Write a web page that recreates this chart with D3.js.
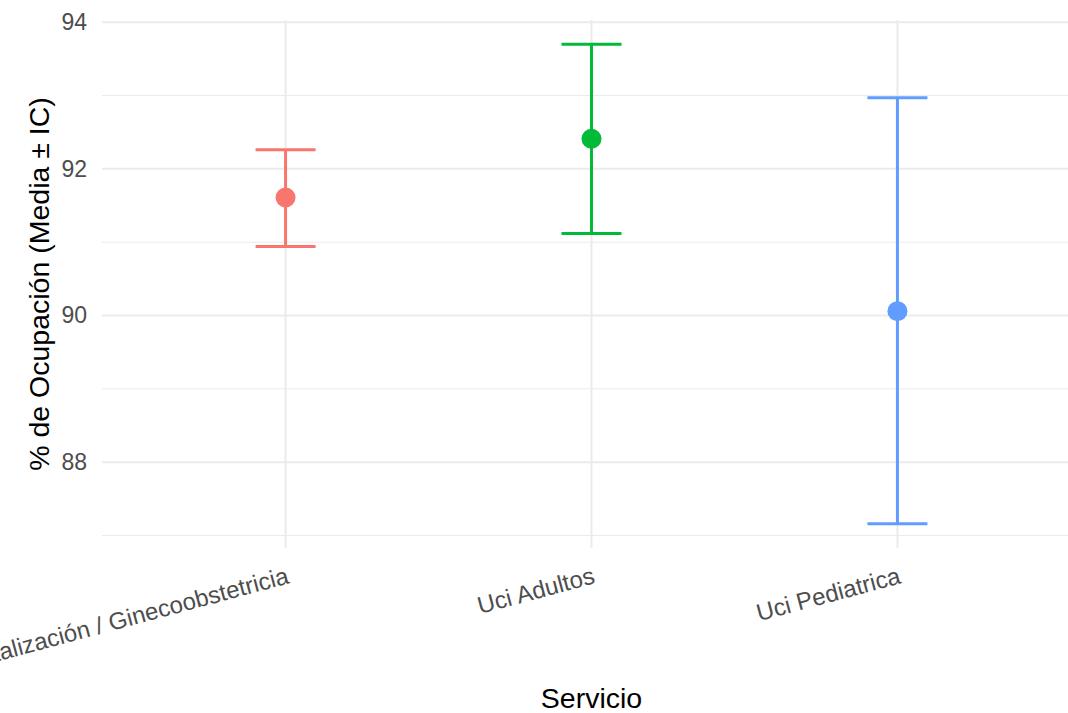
<!DOCTYPE html>
<html>
<head>
<meta charset="utf-8">
<script src="https://cdn.jsdelivr.net/npm/d3@7"></script>
<style>
  body { margin: 0; background: #fff; }
  svg { display: block; font-family: "Liberation Sans", Arial, sans-serif; }
</style>
</head>
<body>
<svg id="chart" width="1068" height="713"></svg>
<script>
// data
var servicios = ["Hospitalización / Ginecoobstetricia", "Uci Adultos", "Uci Pediatrica"];
var media = [91.61, 92.41, 90.06];
var ic_inf = [90.94, 91.12, 87.16];
var ic_sup = [92.26, 93.70, 92.97];
var colores = ["#F8766D", "#00BA38", "#619CFF"];
var ticksMayor = [88, 90, 92, 94];
var ticksMenor = [87, 89, 91, 93];

var svg = d3.select("#chart");

var panel = {left: 102, right: 1081, top: 20, bottom: 548};

var x = d3.scalePoint()
  .domain(servicios)
  .range([panel.left, panel.right])
  .padding(0.6);

var y = d3.scaleLinear()
  .domain([86.83, 94.03])
  .range([panel.bottom, panel.top]);

var datos = servicios.map(function(s, i){
  return {servicio: s, media: media[i], inf: ic_inf[i], sup: ic_sup[i], color: colores[i]};
});

// grid
var grid = svg.append("g");
grid.selectAll("line.minor")
  .data(ticksMenor)
  .enter().append("line")
  .attr("x1", panel.left).attr("x2", panel.right)
  .attr("y1", function(d){ return y(d); })
  .attr("y2", function(d){ return y(d); })
  .attr("stroke", "#EBEBEB").attr("stroke-width", 1);

grid.selectAll("line.major")
  .data(ticksMayor)
  .enter().append("line")
  .attr("x1", panel.left).attr("x2", panel.right)
  .attr("y1", function(d){ return y(d); })
  .attr("y2", function(d){ return y(d); })
  .attr("stroke", "#EBEBEB").attr("stroke-width", 2);

grid.selectAll("line.vert")
  .data(servicios)
  .enter().append("line")
  .attr("x1", function(d){ return x(d); })
  .attr("x2", function(d){ return x(d); })
  .attr("y1", panel.top).attr("y2", panel.bottom)
  .attr("stroke", "#EBEBEB").attr("stroke-width", 2);

// y axis (no line, no ticks)
var yAxis = svg.append("g")
  .attr("transform", "translate(" + (panel.left - 8) + ",0)")
  .call(d3.axisLeft(y).tickValues(ticksMayor).tickSize(0).tickPadding(7).tickFormat(d3.format("d")));
yAxis.select(".domain").remove();
yAxis.selectAll("text")
  .attr("fill", "#4D4D4D")
  .style("font-size", "23px")
  .style("font-family", "'Liberation Sans', Arial, sans-serif");

// x axis labels, rotated
var xAxis = svg.append("g")
  .attr("transform", "translate(0," + panel.bottom + ")")
  .call(d3.axisBottom(x).tickSize(0));
xAxis.select(".domain").remove();
xAxis.selectAll("text")
  .attr("fill", "#4D4D4D")
  .style("font-size", "24px")
  .style("font-family", "'Liberation Sans', Arial, sans-serif")
  .attr("text-anchor", "end")
  .attr("dy", null)
  .attr("y", 0)
  .attr("transform", function(){ return "translate(4,35) rotate(-15)"; });

// error bars
var barras = svg.append("g").selectAll("g")
  .data(datos)
  .enter().append("g");

barras.append("line")
  .attr("x1", function(d){ return x(d.servicio); })
  .attr("x2", function(d){ return x(d.servicio); })
  .attr("y1", function(d){ return y(d.inf); })
  .attr("y2", function(d){ return y(d.sup); })
  .attr("stroke", function(d){ return d.color; })
  .attr("stroke-width", 3);

barras.selectAll("line.cap")
  .data(function(d){ return [{v: d.inf, d: d}, {v: d.sup, d: d}]; })
  .enter().append("line")
  .attr("x1", function(c){ return x(c.d.servicio) - 30; })
  .attr("x2", function(c){ return x(c.d.servicio) + 30; })
  .attr("y1", function(c){ return y(c.v); })
  .attr("y2", function(c){ return y(c.v); })
  .attr("stroke", function(c){ return c.d.color; })
  .attr("stroke-width", 3);

barras.append("circle")
  .attr("cx", function(d){ return x(d.servicio); })
  .attr("cy", function(d){ return y(d.media); })
  .attr("r", 10)
  .attr("fill", function(d){ return d.color; });

// axis titles
svg.append("text")
  .attr("x", (panel.left + panel.right) / 2)
  .attr("y", 708)
  .attr("text-anchor", "middle")
  .style("font-size", "28.5px")
  .attr("fill", "#000")
  .text("Servicio");

svg.append("text")
  .attr("transform", "translate(49," + ((panel.top + panel.bottom) / 2) + ") rotate(-90)")
  .attr("text-anchor", "middle")
  .style("font-size", "28.5px")
  .attr("fill", "#000")
  .text("% de Ocupación (Media ± IC)");
</script>
</body>
</html>
